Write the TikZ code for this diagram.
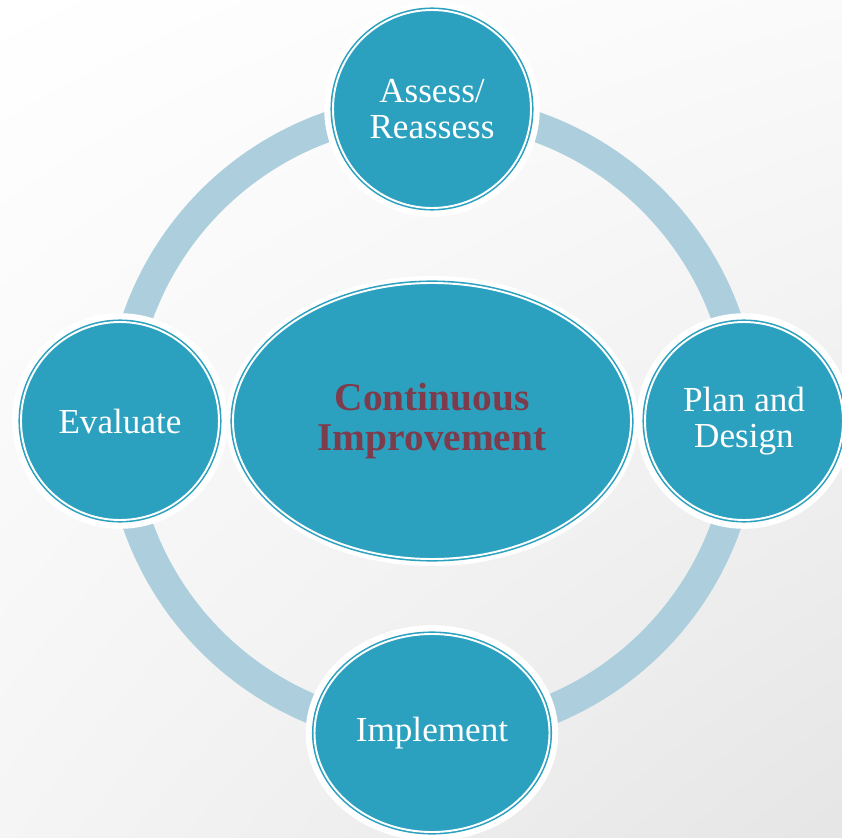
\documentclass[tikz,border=0pt]{standalone}
\usepackage{fontspec}
\setmainfont{Liberation Serif}
\usetikzlibrary{shapes.geometric, shadings}

\definecolor{cyclefill}{HTML}{2CA1BF}
\definecolor{cyclering}{HTML}{ADCFDD}
\definecolor{hubtext}{HTML}{7D3C4B}

\begin{document}
\begin{tikzpicture}[
    stage/.style={circle, fill=cyclefill, draw=cyclefill, double=white, double distance=1.1pt, line width=0.9pt,
        minimum size=3.96cm, inner sep=0pt, align=center, text=white,
        font=\fontsize{20}{20.5}\selectfont, preaction={draw=white, line width=10pt}},
    wide stage/.style={stage, ellipse, minimum width=4.7cm, minimum height=3.96cm},
    hub/.style={ellipse, fill=cyclefill, draw=cyclefill, double=white, double distance=1.1pt, line width=0.9pt,
        minimum width=7.96cm, minimum height=5.52cm, inner sep=0pt, align=center, text=hubtext,
        font=\fontsize{22.4}{23}\selectfont\bfseries, preaction={draw=white, line width=8pt}},
    ring/.style={draw=cyclering, line width=17pt},
]

\useasboundingbox (-8.64,-8.32) rectangle (8.20,8.42);
\shade[upper left=white, upper right=gray!4, lower left=gray!8, lower right=gray!20]
    (-8.64,-8.32) rectangle (8.20,8.42);

\coordinate (c) at (0,0);
\draw[ring] (c) circle (6.24);

\node[hub] (ci) at (c) {Continuous\\Improvement};

\node[stage] (assess) at (90:6.24) {Assess/\\Reassess};
\node[stage] (plan) at (0:6.24) {Plan and\\Design};
\node[wide stage] (impl) at (270:6.24) {Implement};
\node[stage] (eval) at (180:6.24) {Evaluate};

\end{tikzpicture}
\end{document}
